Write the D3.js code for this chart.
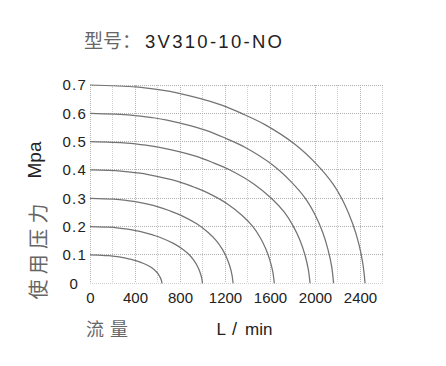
<!DOCTYPE html>
<html><head><meta charset="utf-8">
<script src="https://cdn.jsdelivr.net/npm/d3@7"></script>
<style>body{margin:0;background:#fff} svg{display:block}</style>
</head><body>
<svg id="c" width="446" height="366"></svg>
<script>
// Data (flow L/min, pressure MPa)
const curve01 = [[0,.1],[107,.099],[163,.0975],[202,.096],[305,.09],[360,.085],[407,.08],[477,.07],[527,.06],[566,.05],[592,.04],[611,.03],[625,.02],[635,.01],[640,0]];
const curve02 = [[0,.2],[167,.198],[255,.195],[316,.192],[476,.18],[562,.17],[636,.16],[746,.14],[824,.12],[884,.10],[925,.08],[955,.06],[977,.04],[992,.02],[1000,0]];
const curve03 = [[0,.3],[212,.297],[324,.2925],[402,.288],[605,.27],[715,.255],[809,.24],[949,.21],[1048,.18],[1124,.15],[1177,.12],[1215,.09],[1243,.06],[1262,.03],[1272,0]];
const curve04 = [[0,.4],[274,.396],[418,.39],[518,.384],[780,.36],[921,.34],[1042,.32],[1222,.28],[1350,.24],[1448,.20],[1515,.16],[1564,.12],[1600,.08],[1625,.04],[1638,0]];
const curve05 = [[0,.5],[327,.495],[499,.4875],[618,.48],[931,.45],[1099,.425],[1244,.40],[1459,.35],[1612,.30],[1729,.25],[1809,.20],[1868,.15],[1911,.10],[1940,.05],[1956,0]];
const curve06 = [[0,.6],[362,.594],[552,.585],[684,.576],[1031,.54],[1217,.51],[1377,.48],[1615,.42],[1784,.36],[1914,.30],[2003,.24],[2068,.18],[2115,.12],[2148,.06],[2165,0]];
const curve07 = [[0,.7],[408,.693],[623,.6825],[773,.672],[1164,.63],[1374,.595],[1555,.56],[1824,.49],[2015,.42],[2161,.35],[2262,.28],[2335,.21],[2389,.14],[2425,.07],[2445,0]];
const curves = [curve01,curve02,curve03,curve04,curve05,curve06,curve07];
const xTicks = [0,400,800,1200,1600,2000,2400];
const xGrid = [0,200,400,600,800,1000,1200,1400,1600,1800,2000,2200,2400,2600];
const yTicks = [0,0.1,0.2,0.3,0.4,0.5,0.6,0.7];

const svg = d3.select("#c");
const x = d3.scaleLinear().domain([0,2600]).range([90,382.5]);
const y = d3.scaleLinear().domain([0,0.7]).range([283.3,85]);
const SANS = "'Liberation Sans', Arial, sans-serif";
const CJK = "'Noto Sans CJK SC', sans-serif";

// grid
const g = svg.append("g");
g.selectAll("line.vx").data(xGrid).join("line")
  .attr("x1",d=>x(d)).attr("x2",d=>x(d)).attr("y1",y(0.7)).attr("y2",y(0))
  .attr("stroke",d=>d%400===0?"#b4b4b4":"#cfcfcf").attr("stroke-width",1)
  .attr("stroke-dasharray","1,1").attr("shape-rendering","crispEdges");
g.selectAll("line.hy").data(yTicks).join("line")
  .attr("x1",x(0)).attr("x2",x(2600)).attr("y1",d=>y(d)).attr("y2",d=>y(d))
  .attr("stroke",d=>d===0?"#cfcfcf":"#b0b0b0").attr("stroke-width",1)
  .attr("stroke-dasharray","1,1").attr("shape-rendering","crispEdges");

// curves
const line = d3.line().x(d=>x(d[0])).y(d=>y(d[1])).curve(d3.curveCatmullRom.alpha(0.5));
svg.append("g").selectAll("path").data(curves).join("path")
  .attr("d",line).attr("fill","none").attr("stroke","#737373").attr("stroke-width",1.25);

// axes
const ax = svg.append("g").attr("transform",`translate(0,${y(0)})`)
  .call(d3.axisBottom(x).tickValues(xTicks).tickSize(0).tickPadding(9).tickFormat(d3.format("d")));
ax.select(".domain").remove();
ax.selectAll("text").attr("font-family",SANS).attr("font-size",15).attr("fill","#222");

const ay = svg.append("g").attr("transform",`translate(${x(0)},0)`)
  .call(d3.axisLeft(y).tickValues(yTicks).tickSize(0).tickPadding(3).tickFormat(d=>d===0?"0":d3.format(".1f")(d)));
ay.select(".domain").remove();
ay.selectAll("text").attr("font-family",SANS).attr("font-size",15).attr("fill","#222")
  .attr("letter-spacing",1.2)
  .attr("dx",d=>d===0?-8:0);

// title
const t = svg.append("text").attr("x",84).attr("y",47.5);
t.append("tspan").text("型号：").attr("font-family",CJK).attr("font-size",19).attr("fill","#666");
t.append("tspan").text("3V310-10-NO").attr("x",145).attr("font-family",SANS).attr("font-size",18.5)
  .attr("fill","#222").attr("textLength",137).attr("lengthAdjust","spacing");

// axis titles
svg.append("text").text("Mpa").attr("transform","translate(41,160) rotate(-90)")
  .attr("text-anchor","middle").attr("font-family",SANS).attr("font-size",19).attr("fill","#222");
svg.append("text").text("使用压力").attr("transform","translate(37.5,251.5) rotate(-90)")
  .attr("text-anchor","middle").attr("dominant-baseline","central").attr("font-family",CJK)
  .attr("font-size",20).attr("fill","#666").attr("textLength",96).attr("lengthAdjust","spacing");
svg.append("text").text("流量").attr("x",86).attr("y",327.5).attr("dominant-baseline","central")
  .attr("font-family",CJK).attr("font-size",18).attr("fill","#666")
  .attr("textLength",42).attr("lengthAdjust","spacing");
const lm = svg.append("text").attr("y",335).attr("font-family",SANS).attr("font-size",17).attr("fill","#222");
lm.append("tspan").attr("x",216.5).text("L");
lm.append("tspan").attr("x",232).attr("font-size",18).text("/");
lm.append("tspan").attr("x",245).text("min");
</script>
</body></html>
